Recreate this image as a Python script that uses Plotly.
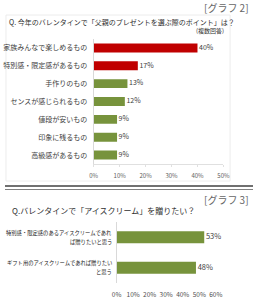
import plotly.graph_objects as go

W, H = 260, 300
FONT = "Noto Sans CJK JP"

# ---- data ----
top_title = "Q. 今年のバレンタインで「父親のプレゼントを選ぶ際のポイント」は？"
top_note = "(複数回答)"
top_tag = "[グラフ 2]"
top_categories = ["家族みんなで楽しめるもの", "特別感・限定感があるもの", "手作りのもの",
                  "センスが感じられるもの", "値段が安いもの", "印象に残るもの", "高級感があるもの"]
top_values = [40, 17, 13, 12, 9, 9, 9]
top_ticks = [0, 10, 20, 30, 40, 50]

bot_title = "Q.バレンタインで「アイスクリーム」を贈りたい？"
bot_tag = "[グラフ 3]"
bot_categories = ["特別感・限定感のあるアイスクリームであれ<br>ば贈りたいと思う",
                  "ギフト用のアイスクリームであれば贈りたい<br>と思う"]
bot_values = [53, 48]
bot_ticks = [0, 10, 20, 30, 40, 50, 60]

RED = "#c00000"
GREEN = "#77933c"
top_colors = [RED, RED] + [GREEN] * (len(top_values) - 2)


def px(x):
    return x / W


def py(y):
    return 1 - y / H


fig = go.Figure()
fig.add_trace(go.Bar(
    x=top_values, y=top_categories, orientation="h", width=0.5,
    marker=dict(color=top_colors, line=dict(width=0)),
    xaxis="x", yaxis="y", hoverinfo="skip",
))
fig.add_trace(go.Scatter(
    x=top_values, y=top_categories, mode="text",
    text=[f" {v}%" for v in top_values], textposition="middle right",
    textfont=dict(size=7, color="#404040", family=FONT),
    cliponaxis=False, xaxis="x", yaxis="y", hoverinfo="skip",
))
fig.add_trace(go.Bar(
    x=bot_values, y=bot_categories, orientation="h", width=0.4,
    marker=dict(color=GREEN, line=dict(width=0)),
    xaxis="x2", yaxis="y2", hoverinfo="skip",
))
fig.add_trace(go.Scatter(
    x=bot_values, y=bot_categories, mode="text",
    text=[f" {v}%" for v in bot_values], textposition="middle right",
    textfont=dict(size=7.5, color="#404040", family=FONT),
    cliponaxis=False, xaxis="x2", yaxis="y2", hoverinfo="skip",
))

fig.update_layout(
    width=W, height=H, margin=dict(l=0, r=0, t=0, b=0),
    paper_bgcolor="white", plot_bgcolor="white",
    showlegend=False,
    font=dict(family=FONT, color="#404040", size=7),
    xaxis=dict(domain=[px(93), px(229)], range=[0, 50], tickvals=top_ticks,
               ticktext=[f"{t}%" for t in top_ticks], anchor="y", tickangle=0,
               showgrid=False, zeroline=False, showline=True, linecolor="#e0e0e0",
               linewidth=1, ticks="outside", ticklen=2, tickcolor="#e0e0e0",
               tickfont=dict(size=6, color="#606060"), ticklabelstandoff=4),
    yaxis=dict(domain=[py(164), py(39)], autorange="reversed", anchor="x",
               showgrid=False, zeroline=False, showline=True, linecolor="#d9d9d9",
               linewidth=1, ticks="", tickfont=dict(size=7, color="#404040"),
               ticklabelstandoff=4),
    xaxis2=dict(domain=[px(117), px(221)], range=[0, 60], tickvals=bot_ticks,
                ticktext=[f"{t}%" for t in bot_ticks], anchor="y2", tickangle=0,
                showgrid=False, zeroline=False, showline=False, ticks="",
                tickfont=dict(size=6.5, color="#505050"), ticklabelstandoff=6),
    yaxis2=dict(domain=[py(283), py(222)], autorange="reversed", anchor="x2",
                showgrid=False, zeroline=False, showline=True, linecolor="#d9d9d9",
                linewidth=1, ticks="", showticklabels=False),
)

shapes = [
    dict(type="rect", xref="paper", yref="paper", x0=px(1), x1=px(236), y0=py(181), y1=py(15),
         line=dict(color="#ececec", width=1), layer="below"),
    dict(type="line", xref="paper", yref="paper", x0=0, x1=1, y0=py(186), y1=py(186),
         line=dict(color="#404040", width=1.5)),
    dict(type="line", xref="paper", yref="paper", x0=0, x1=1, y0=py(189.5), y1=py(189.5),
         line=dict(color="#808080", width=1)),
]
fig.update_layout(shapes=shapes)

ann = [
    dict(text=top_tag, x=px(258), y=py(8), xanchor="right", yanchor="middle",
         font=dict(size=10, color="#666666")),
    dict(text=top_title, x=px(2), y=py(22), xanchor="left", yanchor="middle",
         font=dict(size=7, color="#303030")),
    dict(text=top_note, x=px(232), y=py(31), xanchor="right", yanchor="middle",
         font=dict(size=6, color="#303030")),
    dict(text=bot_tag, x=px(258), y=py(199), xanchor="right", yanchor="middle",
         font=dict(size=10, color="#666666")),
    dict(text=bot_title, x=px(5), y=py(210), xanchor="left", yanchor="middle",
         font=dict(size=8, color="#303030")),
]
for a in ann:
    a.update(xref="paper", yref="paper", showarrow=False)

# two-line category labels of the lower chart, placed on the category axis
for cat in bot_categories:
    l1, l2 = cat.split("<br>")
    for line, shift in ((l1, 4.5), (l2, -4.5)):
        ann.append(dict(text=line, x=0, y=cat, xref="x2", yref="y2",
                        xanchor="right", yanchor="middle", xshift=-3, yshift=shift,
                        showarrow=False, font=dict(size=5.3, color="#202020")))
fig.update_layout(annotations=ann)

fig.write_html("out.html")
